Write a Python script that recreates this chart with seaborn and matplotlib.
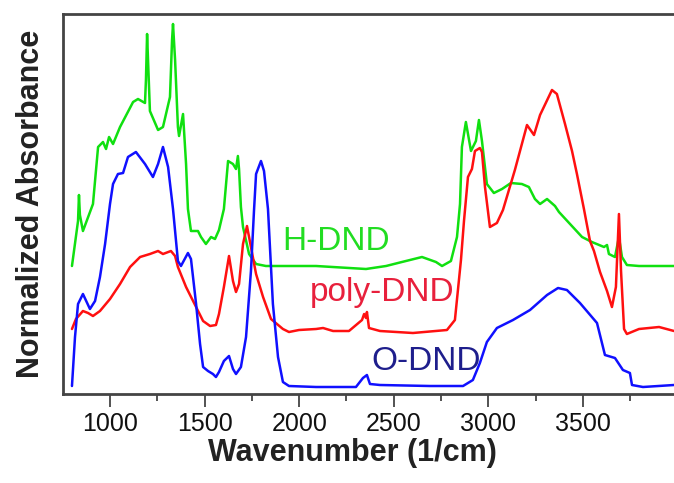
import numpy as np
import pandas as pd
import matplotlib
matplotlib.use("Agg")
import matplotlib.pyplot as plt
from matplotlib.ticker import MultipleLocator
import seaborn as sns

# ---- data (wavenumber in 1/cm, absorbance in arbitrary offset units) ----
h_wn = [799, 831, 836, 841, 857, 910, 937, 963, 979, 995, 1016, 1053, 1122, 1148, 1185,
        1190, 1196, 1201, 1211, 1254, 1280, 1317, 1328, 1333, 1344, 1359, 1365, 1386, 1402,
        1412, 1428, 1465, 1481, 1507, 1534, 1555, 1576, 1602, 1624, 1650, 1666, 1676, 1682,
        1692, 1703, 1735, 1772, 1824, 2089, 2353, 2459, 2543, 2649, 2723, 2755, 2802, 2834,
        2850, 2860, 2881, 2908, 2934, 2950, 2966, 2992, 3029, 3072, 3119, 3177, 3214, 3246,
        3273, 3310, 3352, 3373, 3495, 3547, 3611, 3627, 3637, 3669, 3690, 3706, 3732, 3796, 3981]
h_ab = [128, 173, 199, 179, 163, 190, 247, 252, 245, 257, 250, 267, 292, 295, 291,
        314, 360, 334, 283, 264, 267, 297, 354, 370, 334, 267, 258, 280, 230,
        185, 163, 163, 157, 150, 157, 155, 164, 185, 233, 230, 225, 238, 225,
        187, 167, 140, 130, 128, 128, 125, 128, 132, 137, 132, 128, 133, 157,
        190, 247, 272, 243, 253, 274, 253, 210, 201, 205, 211, 210, 207, 195,
        190, 195, 188, 182, 157, 152, 147, 149, 140, 137, 157, 137, 129, 128, 128]

p_wn = [799, 820, 857, 884, 910, 947, 1000, 1053, 1106, 1159, 1211, 1254, 1280, 1322, 1344,
        1359, 1402, 1455, 1492, 1529, 1560, 1576, 1602, 1629, 1650, 1666, 1682, 1703, 1724,
        1745, 1772, 1809, 1851, 1914, 1946, 1999, 2089, 2126, 2179, 2263, 2332, 2343, 2353,
        2358, 2369, 2427, 2601, 2781, 2823, 2839, 2855, 2871, 2892, 2913, 2929, 2955, 2966,
        2982, 3008, 3045, 3077, 3140, 3204, 3241, 3273, 3336, 3362, 3405, 3442, 3468, 3505,
        3537, 3558, 3590, 3627, 3653, 3674, 3690, 3701, 3717, 3732, 3796, 3902, 3981]
p_ab = [65, 75, 83, 81, 78, 83, 95, 110, 127, 137, 140, 143, 140, 143, 138,
        127, 107, 87, 73, 68, 69, 80, 107, 138, 113, 102, 110, 150, 168,
        147, 120, 97, 75, 65, 62, 64, 65, 66, 63, 63, 74, 80, 76,
        82, 66, 63, 61, 64, 74, 104, 134, 173, 217, 225, 243, 246, 242,
        207, 167, 171, 184, 224, 269, 259, 279, 304, 300, 270, 243, 220, 185,
        153, 143, 122, 103, 87, 107, 180, 123, 65, 60, 65, 67, 63]

o_wn = [799, 815, 831, 857, 894, 921, 947, 974, 1000, 1016, 1042, 1069, 1095, 1137, 1185,
        1227, 1254, 1280, 1307, 1333, 1359, 1375, 1412, 1428, 1455, 1476, 1492, 1518, 1544,
        1560, 1576, 1602, 1629, 1650, 1666, 1692, 1719, 1745, 1761, 1772, 1798, 1814, 1835,
        1861, 1888, 1914, 1946, 2089, 2300, 2337, 2358, 2374, 2427, 2691, 2866, 2918, 2955,
        2992, 3045, 3130, 3220, 3310, 3368, 3415, 3484, 3574, 3616, 3669, 3711, 3748, 3759,
        3817, 3981]
o_ab = [8, 57, 90, 100, 85, 93, 117, 150, 190, 210, 220, 221, 237, 242, 230,
        217, 230, 247, 227, 185, 133, 128, 141, 135, 90, 50, 27, 23, 20,
        17, 22, 33, 38, 25, 20, 27, 57, 123, 183, 220, 233, 223, 185,
        90, 37, 12, 8, 7, 7, 16, 19, 10, 9, 8, 8, 14, 31,
        52, 66, 74, 84, 99, 106, 104, 91, 71, 39, 36, 24, 21, 9,
        7, 9]

series_names = ["H-DND", "poly-DND", "O-DND"]
line_colors = ["#10e010", "#ff1010", "#1010ff"]
label_colors = ["#22dd22", "#e8203c", "#1e1e8c"]
x_ticks = [1000, 1500, 2000, 2500, 3000, 3500]

df = pd.concat([
    pd.DataFrame({"wn": h_wn, "ab": h_ab, "sample": series_names[0]}),
    pd.DataFrame({"wn": p_wn, "ab": p_ab, "sample": series_names[1]}),
    pd.DataFrame({"wn": o_wn, "ab": o_ab, "sample": series_names[2]}),
], ignore_index=True)

# ---- style ----
sns.set_style("white")
plt.rcParams["font.family"] = ["Liberation Sans", "DejaVu Sans"]

fig = plt.figure(figsize=(6.74, 4.83), dpi=100)
ax = fig.add_axes([63 / 674, 1 - 394 / 483, 1 - 63 / 674, (394 - 14) / 483])

sns.lineplot(data=df, x="wn", y="ab", hue="sample", palette=dict(zip(series_names, line_colors)),
             sort=False, estimator=None, linewidth=1.8, legend=False, ax=ax)

ax.set_xlim(751.6, 3981)
ax.set_ylim(0, 380)
ax.set_xticks(x_ticks)
ax.xaxis.set_minor_locator(MultipleLocator(250))
ax.set_yticks([])
ax.tick_params(axis="x", which="major", direction="out", length=9, width=1.3,
               color="#444444", labelsize=18, labelcolor="#111111", pad=4, bottom=True)
ax.tick_params(axis="x", which="minor", direction="out", length=5, width=1.3,
               color="#444444", bottom=True)
for side in ["left", "bottom", "top"]:
    ax.spines[side].set_color("#444444")
    ax.spines[side].set_linewidth(2)
ax.spines["right"].set_visible(False)

ax.set_xlabel("Wavenumber (1/cm)", fontsize=22, fontweight="bold", color="#222222")
ax.xaxis.set_label_coords((352 - 63) / 611, -0.117)
ax.set_ylabel("Normalized Absorbance", fontsize=22, fontweight="bold", color="#222222", labelpad=12)

# series labels
label_wn = [2194, 2437, 2670]
label_ab = [153, 102, 33]
for name, c, xw, ya in zip(series_names, label_colors, label_wn, label_ab):
    ax.text(xw, ya, name, color=c, fontsize=24, ha="center", va="center")

fig.savefig("out.png", dpi=100)
